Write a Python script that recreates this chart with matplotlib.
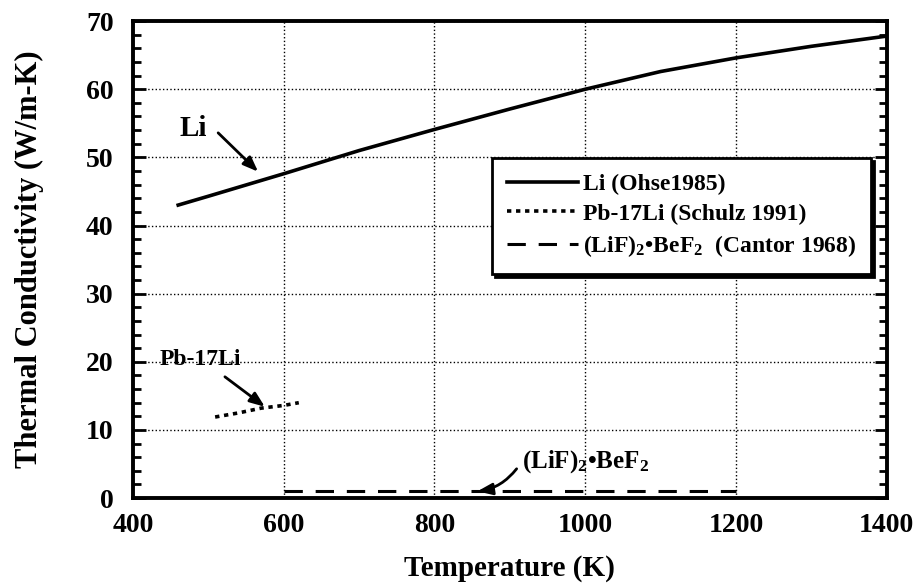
import matplotlib
matplotlib.use('Agg')
import matplotlib.pyplot as plt
from matplotlib.ticker import MultipleLocator

plt.rcParams['font.family'] = ['Liberation Serif', 'DejaVu Serif']
plt.rcParams['font.weight'] = 'bold'
plt.rcParams['mathtext.fontset'] = 'custom'
plt.rcParams['mathtext.rm'] = 'Liberation Serif:bold'
plt.rcParams['mathtext.it'] = 'Liberation Serif:bold'
plt.rcParams['mathtext.bf'] = 'Liberation Serif:bold'

# Li (Ohse 1985)
li_temp = [460, 500, 600, 700, 800, 900, 1000, 1100, 1200, 1300, 1400]
li_k = [43.0, 44.3, 47.6, 51.0, 54.1, 57.1, 60.0, 62.6, 64.6, 66.3, 67.8]

# Pb-17Li (Schulz 1991)
pb_temp = [509, 540, 570, 600, 620]
pb_k = [11.9, 12.5, 13.2, 13.6, 14.0]

# (LiF)2-BeF2 (Cantor 1968)
flibe_temp = [600, 1200]
flibe_k = [1.0, 1.0]

x_ticks = [400, 600, 800, 1000, 1200, 1400]
y_ticks = [0, 10, 20, 30, 40, 50, 60, 70]

fig = plt.figure(figsize=(9.17, 5.86), dpi=100)
ax = fig.add_axes([0.145, 0.150, 0.822, 0.814])

ax.plot(li_temp, li_k, color='black', lw=2.6, label='Li (Ohse1985)')
ax.plot(pb_temp, pb_k, color='black', lw=2.6, linestyle=(0, (1.2, 1.3)),
        label='Pb-17Li (Schulz 1991)')
ax.plot(flibe_temp, flibe_k, color='black', lw=2.2, linestyle=(0, (6.0, 4.2)),
        label=r'$\mathrm{(LiF)_2}$•$\mathrm{BeF_2}$  (Cantor 1968)')

ax.set_xlim(400, 1400)
ax.set_ylim(0, 70)
ax.set_xticks(x_ticks)
ax.set_yticks(y_ticks)
ax.yaxis.set_minor_locator(MultipleLocator(2))
ax.tick_params(axis='x', length=0, pad=11, labelsize=20)
ax.tick_params(axis='y', which='major', direction='in', length=9, width=2,
               right=True, pad=14, labelsize=20)
ax.tick_params(axis='y', which='minor', direction='in', length=6, width=2,
               right=True)
for s in ax.spines.values():
    s.set_linewidth(2.8)

ax.grid(True, which='major', color='black', linestyle=':', lw=1.0)

ax.set_xlabel('Temperature (K)', fontsize=21, fontweight='bold', labelpad=12)
ax.set_ylabel('Thermal Conductivity (W/m-K)', fontsize=22, fontweight='bold',
              labelpad=30)

arrow = dict(arrowstyle='-|>,head_length=0.9,head_width=0.35', color='black',
             lw=2, shrinkA=0, shrinkB=0)
ax.annotate('', xy=(566, 47.9), xytext=(513, 53.6), arrowprops=arrow)
ax.text(480, 54.3, 'Li', fontsize=21, ha='center', va='center')
ax.annotate('', xy=(575, 13.4), xytext=(522, 17.8), arrowprops=arrow)
ax.text(489, 20.3, 'Pb-17Li', fontsize=17, ha='center', va='center')
ax.annotate('', xy=(857, 1.0), xytext=(909, 4.3),
            arrowprops=dict(arrow, connectionstyle='arc3,rad=-0.2'))
ax.text(1000, 5.3, r'$\mathrm{(LiF)_2}$•$\mathrm{BeF_2}$', fontsize=18,
        ha='center', va='center')

leg = ax.legend(loc='upper left', bbox_to_anchor=(0.476, 0.713), fontsize=17,
                borderaxespad=0, handlelength=3.0, handletextpad=0.2,
                borderpad=0.65, labelspacing=0.35, fancybox=False,
                framealpha=1, shadow={'color': 'black', 'alpha': 1})
leg.get_frame().set_edgecolor('black')
leg.get_frame().set_linewidth(2)

fig.savefig('out.png', dpi=100)
